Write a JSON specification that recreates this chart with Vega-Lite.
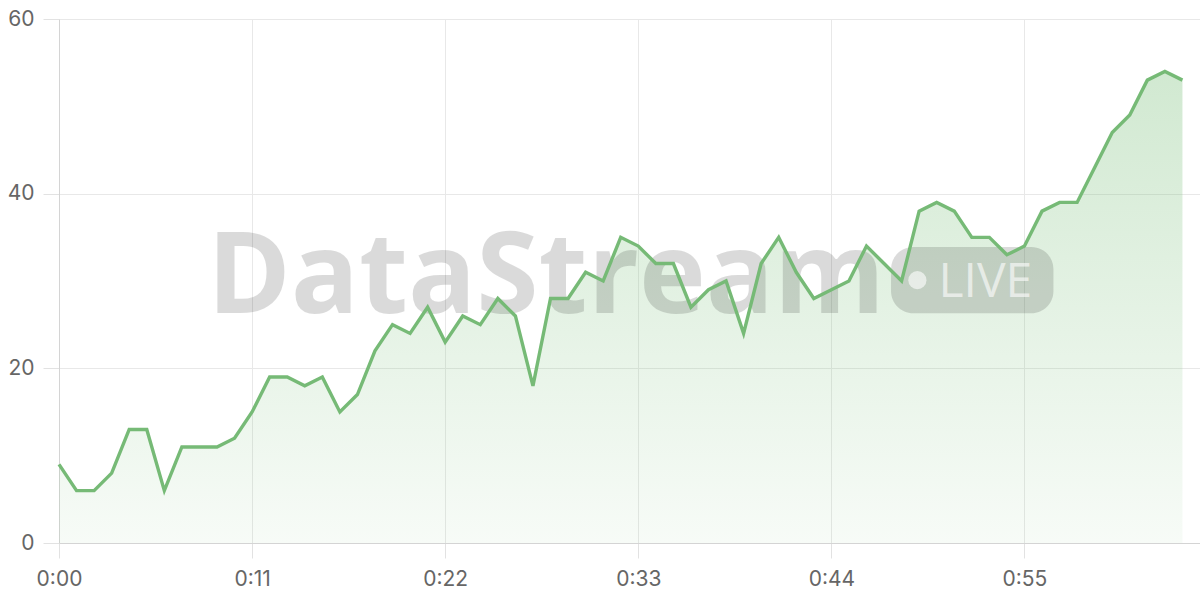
{
  "$schema": "https://vega.github.io/schema/vega-lite/v6.json",
  "width": 1141,
  "height": 524,
  "autosize": "none",
  "padding": {"left": 59, "top": 19, "right": 0, "bottom": 57},
  "background": "white",
  "config": {"view": {"stroke": null}, "font": "Inter"},
  "datasets": {
    "series": [
      {"t": 0, "v": 9}, {"t": 1, "v": 6}, {"t": 2, "v": 6}, {"t": 3, "v": 8},
      {"t": 4, "v": 13}, {"t": 5, "v": 13}, {"t": 6, "v": 6}, {"t": 7, "v": 11},
      {"t": 8, "v": 11}, {"t": 9, "v": 11}, {"t": 10, "v": 12}, {"t": 11, "v": 15},
      {"t": 12, "v": 19}, {"t": 13, "v": 19}, {"t": 14, "v": 18}, {"t": 15, "v": 19},
      {"t": 16, "v": 15}, {"t": 17, "v": 17}, {"t": 18, "v": 22}, {"t": 19, "v": 25},
      {"t": 20, "v": 24}, {"t": 21, "v": 27}, {"t": 22, "v": 23}, {"t": 23, "v": 26},
      {"t": 24, "v": 25}, {"t": 25, "v": 28}, {"t": 26, "v": 26}, {"t": 27, "v": 18},
      {"t": 28, "v": 28}, {"t": 29, "v": 28}, {"t": 30, "v": 31}, {"t": 31, "v": 30},
      {"t": 32, "v": 35}, {"t": 33, "v": 34}, {"t": 34, "v": 32}, {"t": 35, "v": 32},
      {"t": 36, "v": 27}, {"t": 37, "v": 29}, {"t": 38, "v": 30}, {"t": 39, "v": 24},
      {"t": 40, "v": 32}, {"t": 41, "v": 35}, {"t": 42, "v": 31}, {"t": 43, "v": 28},
      {"t": 44, "v": 29}, {"t": 45, "v": 30}, {"t": 46, "v": 34}, {"t": 47, "v": 32},
      {"t": 48, "v": 30}, {"t": 49, "v": 38}, {"t": 50, "v": 39}, {"t": 51, "v": 38},
      {"t": 52, "v": 35}, {"t": 53, "v": 35}, {"t": 54, "v": 33}, {"t": 55, "v": 34},
      {"t": 56, "v": 38}, {"t": 57, "v": 39}, {"t": 58, "v": 39}, {"t": 59, "v": 43},
      {"t": 60, "v": 47}, {"t": 61, "v": 49}, {"t": 62, "v": 53}, {"t": 63, "v": 54},
      {"t": 64, "v": 53}
    ],
    "badge": [{"brand": "DataStream", "tag": "LIVE"}]
  },
  "layer": [
    {
      "data": {"name": "series"},
      "mark": {
        "type": "area",
        "fill": {
          "gradient": "linear",
          "x1": 0, "y1": 0, "x2": 0, "y2": 1,
          "stops": [
            {"offset": 0, "color": "rgba(120,190,120,0.34)"},
            {"offset": 1, "color": "rgba(120,190,120,0.06)"}
          ]
        }
      },
      "encoding": {
        "x": {
          "field": "t",
          "type": "quantitative",
          "scale": {"domain": [0, 65], "nice": false, "zero": false},
          "axis": {
            "title": null,
            "values": [0, 11, 22, 33, 44, 55],
            "labelExpr": "floor(datum.value / 60) + ':' + (datum.value % 60 < 10 ? '0' : '') + (datum.value % 60)",
            "grid": true,
            "gridColor": "#e8e8e8",
            "tickColor": "#e2e2e2",
            "tickSize": 15,
            "domainColor": "#d4d4d4",
            "labelFontSize": 21,
            "labelColor": "#666666",
            "labelPadding": 10,
            "labelFlush": false
          }
        },
        "y": {
          "field": "v",
          "type": "quantitative",
          "scale": {"domain": [0, 60], "nice": false},
          "axis": {
            "title": null,
            "values": [0, 20, 40, 60],
            "grid": true,
            "gridColor": "#e8e8e8",
            "tickColor": "#e2e2e2",
            "tickSize": 16,
            "domainColor": "#d4d4d4",
            "labelFontSize": 21,
            "labelColor": "#666666",
            "labelPadding": 9,
            "labelFlush": false
          }
        }
      }
    },
    {
      "data": {"name": "badge"},
      "mark": {
        "type": "text",
        "font": "Open Sans",
        "fontWeight": "bold",
        "fontSize": 113,
        "align": "left",
        "baseline": "alphabetic",
        "color": "#000000",
        "opacity": 0.14
      },
      "encoding": {
        "text": {"field": "brand"},
        "x": {"datum": 8.44, "type": "quantitative"},
        "y": {"datum": 26.3, "type": "quantitative"}
      }
    },
    {
      "data": {"name": "badge"},
      "mark": {"type": "rect", "color": "#000000", "opacity": 0.14, "cornerRadius": 22},
      "encoding": {
        "x": {"datum": 47.4, "type": "quantitative"},
        "x2": {"datum": 56.65},
        "y": {"datum": 33.9, "type": "quantitative"},
        "y2": {"datum": 26.3}
      }
    },
    {
      "data": {"name": "badge"},
      "mark": {"type": "point", "filled": true, "shape": "circle", "size": 330, "color": "#ffffff", "opacity": 0.6},
      "encoding": {
        "x": {"datum": 48.9, "type": "quantitative"},
        "y": {"datum": 30.1, "type": "quantitative"}
      }
    },
    {
      "data": {"name": "badge"},
      "mark": {
        "type": "text",
        "font": "Open Sans",
        "fontSize": 48,
        "align": "left",
        "baseline": "alphabetic",
        "color": "#ffffff",
        "opacity": 0.6
      },
      "encoding": {
        "text": {"field": "tag"},
        "x": {"datum": 50.1, "type": "quantitative"},
        "y": {"datum": 28.2, "type": "quantitative"}
      }
    },
    {
      "data": {"name": "series"},
      "mark": {"type": "line", "color": "#76ba76", "strokeWidth": 3.4, "strokeJoin": "miter"},
      "encoding": {
        "x": {"field": "t", "type": "quantitative"},
        "y": {"field": "v", "type": "quantitative"}
      }
    }
  ]
}
